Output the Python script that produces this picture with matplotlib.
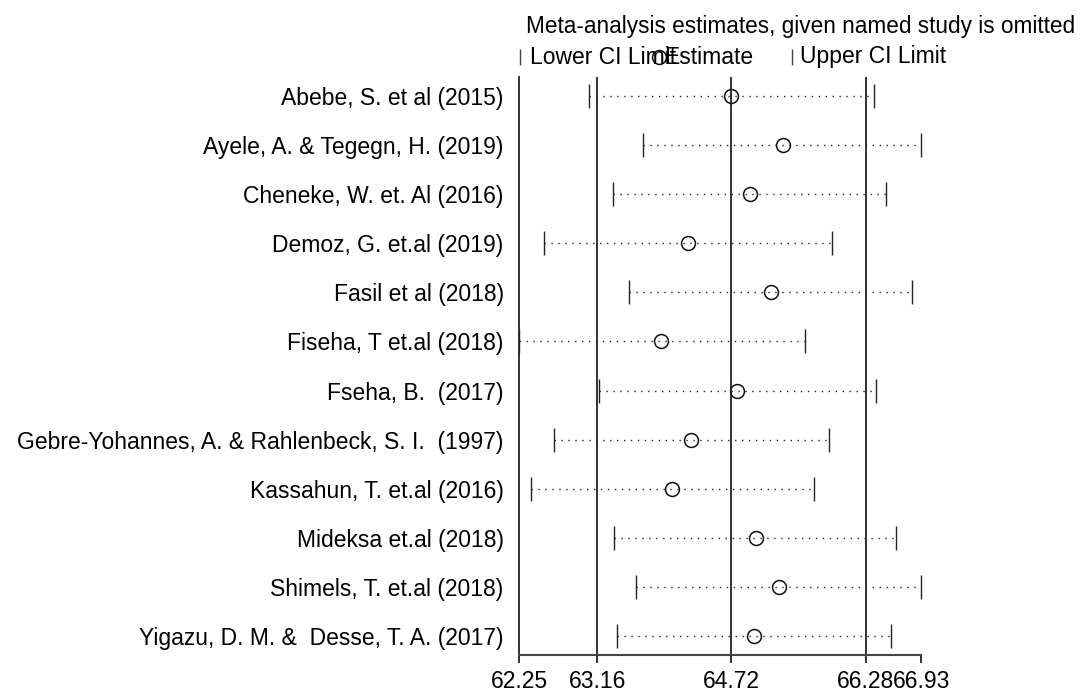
import numpy as np
import matplotlib
matplotlib.use("Agg")
import matplotlib.pyplot as plt
from matplotlib.lines import Line2D

plt.rcParams['font.family'] = ['Liberation Sans', 'DejaVu Sans']

studies = ["Abebe, S. et al (2015)",
           "Ayele, A. & Tegegn, H. (2019)",
           "Cheneke, W. et. Al (2016)",
           "Demoz, G. et.al (2019)",
           "Fasil et al (2018)",
           "Fiseha, T et.al (2018)",
           "Fseha, B.  (2017)",
           "Gebre-Yohannes, A. & Rahlenbeck, S. I.  (1997)",
           "Kassahun, T. et.al (2016)",
           "Mideksa et.al (2018)",
           "Shimels, T. et.al (2018)",
           "Yigazu, D. M. &  Desse, T. A. (2017)"]
lower = [63.06, 63.69, 63.34, 62.54, 63.53, 62.25, 63.18, 62.66, 62.39, 63.36, 63.61, 63.39]
estimate = [64.72, 65.32, 64.94, 64.21, 65.18, 63.90, 64.79, 64.25, 64.03, 65.00, 65.27, 64.98]
upper = [66.38, 66.93, 66.52, 65.89, 66.82, 65.57, 66.40, 65.85, 65.68, 66.63, 66.92, 66.58]

# overall estimate and CI (reference lines)
overall = [63.16, 64.72, 66.28]
xticks = [62.25, 63.16, 64.72, 66.28, 66.93]

FS = 16.5
fig = plt.figure(figsize=(10.81, 6.93), dpi=100)
W, H = 1081, 693
ax = fig.add_axes([519 / W, (H - 655) / H, (921.5 - 519) / W, (655 - 77) / H])

y = np.arange(1, len(studies) + 1)
for yi, lo, es, up in zip(y, lower, estimate, upper):
    ax.plot([lo, up], [yi, yi], color='#222222', lw=1.0, dashes=(1, 4))
ax.plot(lower, y, ls='none', marker='|', ms=17, mew=1.0, color='#222222')
ax.plot(upper, y, ls='none', marker='|', ms=17, mew=1.0, color='#222222')
ax.plot(estimate, y, ls='none', marker='o', ms=10, mfc='none', mec='#111111', mew=1.1)

for v in overall:
    ax.axvline(v, color='#222222', lw=1.3)

ax.set_xlim(62.25, 66.93)
ax.set_ylim(len(studies) + 0.388, 1 - 0.388)
ax.set_xticks(xticks)
ax.set_xticklabels([f"{t:.2f}" for t in xticks], fontsize=FS)
ax.set_yticks(y)
ax.set_yticklabels(studies, fontsize=FS)
ax.tick_params(axis='y', length=0, pad=11)
ax.tick_params(axis='x', length=6, width=1.3, color='#222222', pad=5)
ax.spines['top'].set_visible(False)
ax.spines['right'].set_visible(False)
ax.spines['left'].set_color('#222222')
ax.spines['bottom'].set_color('#444444')
ax.spines['left'].set_linewidth(1.3)
ax.spines['bottom'].set_linewidth(1.5)

# title and legend row
fig.text(526 / W, 1 - 26 / H, "Meta-analysis estimates, given named study is omitted",
         fontsize=16.3, va='center', ha='left')
ly = 1 - 57 / H
fig.add_artist(Line2D([520 / W], [ly], marker='|', ms=12, mew=1, color='#444444',
                      transform=fig.transFigure))
fig.text(530 / W, ly, "Lower CI Limit", fontsize=FS, va='center', ha='left')
fig.add_artist(Line2D([659 / W], [ly], marker='o', ms=10, mfc='none', mec='#111111',
                      mew=1.1, transform=fig.transFigure))
fig.text(664 / W, ly, "Estimate", fontsize=FS, va='center', ha='left')
fig.add_artist(Line2D([792 / W], [ly], marker='|', ms=12, mew=1, color='#444444',
                      transform=fig.transFigure))
fig.text(800 / W, ly, "Upper CI Limit", fontsize=FS, va='center', ha='left')

fig.savefig("out.png", dpi=100)
